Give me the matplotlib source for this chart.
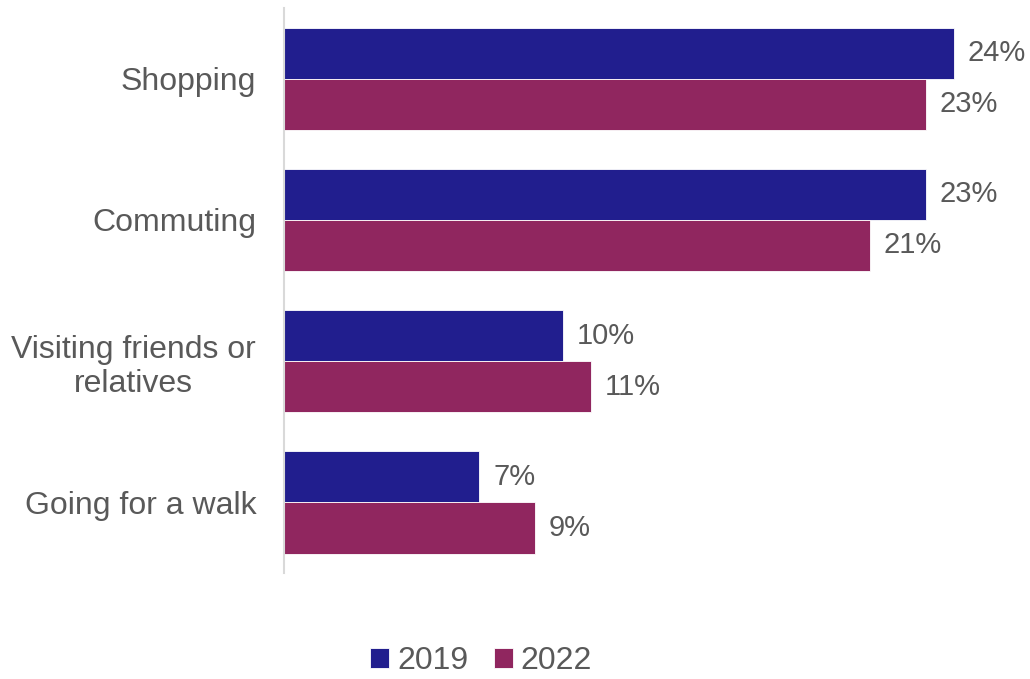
import numpy as np
import matplotlib.pyplot as plt

plt.rcParams['font.family'] = ['Liberation Sans', 'DejaVu Sans']

categories = ["Shopping", "Commuting", "Visiting friends or\nrelatives", "Going for a walk"]
years = ["2019", "2022"]
values_2019 = [24, 23, 10, 7]
values_2022 = [23, 21, 11, 9]
colors = ["#211E8E", "#90265F"]
text_color = "#595959"

fig = plt.figure(figsize=(10.3, 6.79), dpi=100)
ax = fig.add_axes([0.2757, 0.1561, 0.7243, 0.8321])

y = np.arange(len(categories))
h = 0.362

bars = []
for i, (vals, col, yr) in enumerate(zip([values_2019, values_2022], colors, years)):
    offs = (i - 0.5) * h
    b = ax.barh(y + offs, vals, height=h, color=col, edgecolor="white",
                linewidth=0.6, label=yr)
    bars.append(b)
    for yy, v in zip(y + offs, vals):
        ax.annotate(f"{v}%", (v, yy), xytext=(10, 0), textcoords="offset points",
                    va="center", ha="left", fontsize=21, color=text_color)

ax.set_xlim(0, 26.74)
ax.set_ylim(3.5, -0.5)
ax.set_yticks(y)
ax.set_yticklabels(categories, fontsize=23, color=text_color,
                   multialignment="center", linespacing=1.2)
ax.tick_params(axis="y", length=0, pad=20)
ax.set_xticks([])
for s in ["top", "right", "bottom"]:
    ax.spines[s].set_visible(False)
ax.spines["left"].set_color("#D9D9D9")
ax.spines["left"].set_linewidth(1.5)

leg = fig.legend(handles=bars, labels=years, loc="center",
                 bbox_to_anchor=(0.467, 0.026), ncol=2, frameon=False,
                 fontsize=23, handlelength=0.6, handleheight=0.6,
                 handletextpad=0.25, columnspacing=0.8)
for t in leg.get_texts():
    t.set_color(text_color)

fig.savefig("out.png", dpi=100)
